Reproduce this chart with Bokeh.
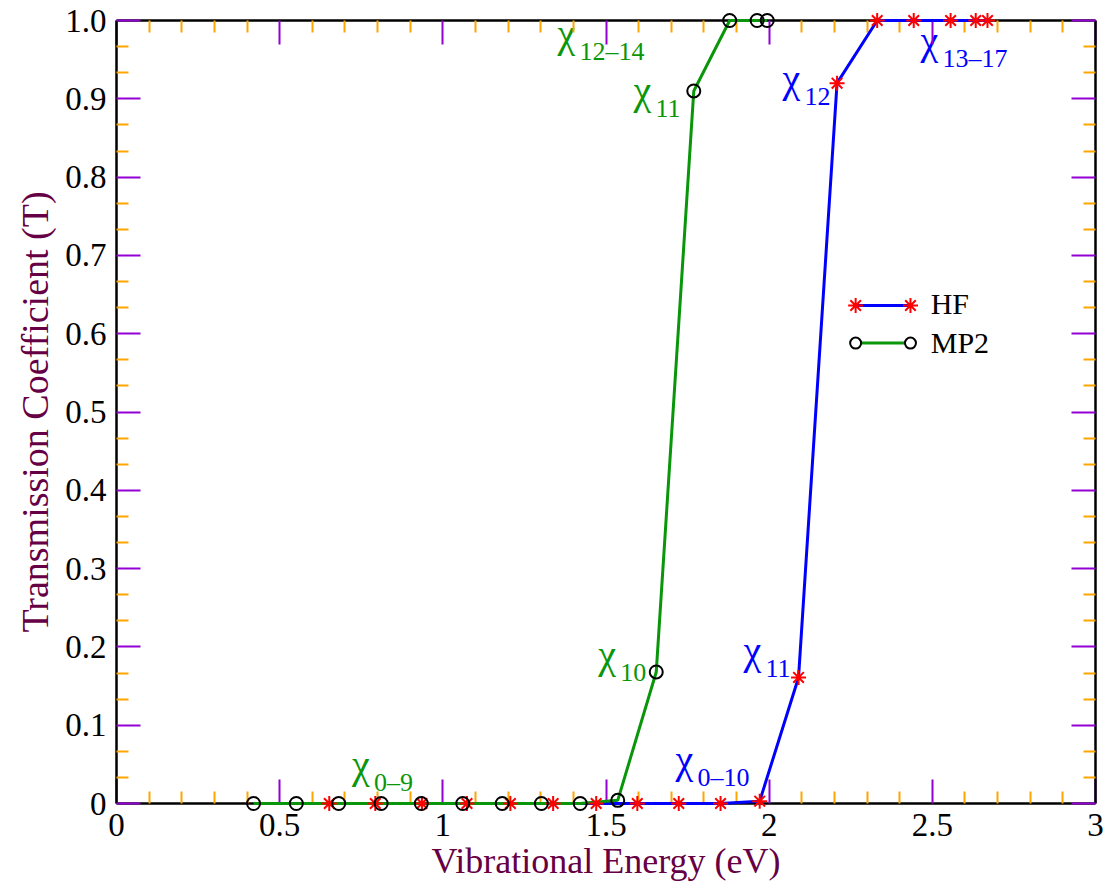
from bokeh.plotting import figure
from bokeh.models import Range1d, LinearAxis, FixedTicker, CustomJSTickFormatter, Label, ColumnDataSource
from bokeh.core.properties import value
from bokeh.embed import file_html
from bokeh.resources import INLINE

# ---------------- data ----------------
hf_energy = [0.652, 0.793, 0.936, 1.074, 1.207, 1.338, 1.470, 1.596, 1.723, 1.851,
             1.971, 2.090, 2.208, 2.331, 2.443, 2.556, 2.633, 2.669]
hf_trans = [0, 0, 0, 0, 0, 0, 0, 0, 0, 0,
            0.003, 0.161, 0.920, 1.0, 1.0, 1.0, 1.0, 1.0]

mp2_energy = [0.420, 0.551, 0.681, 0.811, 0.934, 1.061, 1.182, 1.302, 1.421, 1.536,
              1.654, 1.769, 1.879, 1.963, 1.994]
mp2_trans = [0, 0, 0, 0, 0, 0, 0, 0, 0, 0.004,
             0.168, 0.910, 1.0, 1.0, 1.0]

x_major_ticks = [0, 0.5, 1, 1.5, 2, 2.5, 3]
y_major_ticks = [0, 0.1, 0.2, 0.3, 0.4, 0.5, 0.6, 0.7, 0.8, 0.9, 1.0]

# annotation texts (chi + subscript)
green_subs = ["12\u201314", "11", "10", "0\u20139"]
blue_subs = ["13\u201317", "12", "11", "0\u201310"]

# ---------------- layout / style ----------------
green_lx = [1.351, 1.584, 1.476, 0.722]
green_ly = [0.983, 0.910, 0.190, 0.050]
blue_lx = [2.464, 2.041, 1.921, 1.713]
blue_ly = [0.974, 0.926, 0.195, 0.056]

SERIF = "Liberation Serif"
GREEN = "#0a960a"
BLUE = "#0000ff"
RED = "#ff0000"
TITLE_COLOR = "#660044"
MAJOR_C = "#9400d3"
MINOR_C = "#ffa500"

p = figure(width=1110, height=891, x_range=Range1d(0, 3), y_range=Range1d(0, 1),
           output_backend="svg", toolbar_location=None,
           min_border_left=116, min_border_right=15, min_border_top=20, min_border_bottom=88,
           background_fill_color="white", border_fill_color="white")
p.grid.visible = False
p.outline_line_color = None

x_minor = [i / 10 for i in range(31) if i % 5]
y_minor = [i / 30 for i in range(31) if i % 3]
xticker = FixedTicker(ticks=x_major_ticks, minor_ticks=x_minor)
yticker = FixedTicker(ticks=y_major_ticks, minor_ticks=y_minor)

xfmt = CustomJSTickFormatter(code="""
const r = Math.round(tick*2)/2;
return (Math.abs(r - Math.round(r)) < 1e-9) ? String(Math.round(r)) : r.toFixed(1);
""")
yfmt = CustomJSTickFormatter(code="""
return (Math.abs(tick) < 1e-9) ? "0" : tick.toFixed(1);
""")
blank = CustomJSTickFormatter(code="return '';")


def style_axis(ax, title_size="36px"):
    ax.axis_line_color = "black"
    ax.axis_line_width = 2.5
    ax.major_tick_in = 24
    ax.major_tick_out = 0
    ax.minor_tick_in = 12
    ax.minor_tick_out = 0
    ax.major_tick_line_color = MAJOR_C
    ax.major_tick_line_width = 2
    ax.minor_tick_line_color = MINOR_C
    ax.minor_tick_line_width = 2
    ax.major_label_text_font = SERIF
    ax.major_label_text_font_style = "normal"
    ax.major_label_text_font_size = "33px"
    ax.major_label_text_color = "black"
    ax.axis_label_text_font = SERIF
    ax.axis_label_text_font_size = title_size
    ax.axis_label_text_font_style = "normal"
    ax.axis_label_text_color = TITLE_COLOR


xa = p.xaxis[0]
xa.ticker = xticker
xa.formatter = xfmt
xa.axis_label = "Vibrational Energy (eV)"
style_axis(xa)
xa.major_label_standoff = 10
xa.axis_label_standoff = 2

ya = p.yaxis[0]
ya.ticker = yticker
ya.formatter = yfmt
ya.axis_label = "Transmission Coefficient (T)"
style_axis(ya, "38px")
ya.major_label_standoff = 10
ya.axis_label_standoff = 6

top = LinearAxis(ticker=xticker, formatter=blank)
style_axis(top)
top.major_label_standoff = 0
p.add_layout(top, "above")
right = LinearAxis(ticker=yticker, formatter=blank)
style_axis(right)
right.major_label_standoff = 0
p.add_layout(right, "right")

# ---------------- series ----------------
p.line(hf_energy, hf_trans, line_color=BLUE, line_width=3, level="overlay")
p.line(mp2_energy, mp2_trans, line_color=GREEN, line_width=3, level="overlay")
p.scatter(hf_energy, hf_trans, marker="asterisk", size=15, line_color=RED, line_width=2,
          level="overlay")
p.scatter(mp2_energy, mp2_trans, marker="circle", size=13, line_color="black",
          fill_color=None, line_width=2, level="overlay")

# ---------------- annotations ----------------
for lx, ly, subs, col in [(green_lx, green_ly, green_subs, GREEN), (blue_lx, blue_ly, blue_subs, BLUE)]:
    src = ColumnDataSource(dict(x=lx, y=ly, chi=["\u03c7"] * len(lx), sub=subs))
    p.text(x="x", y="y", text="chi", source=src, text_font=value(SERIF),
           text_font_size=value("40px"), text_color=col, text_baseline="alphabetic",
           text_align="left", text_font_style="normal")
    p.text(x="x", y="y", text="sub", source=src, text_font=value(SERIF),
           text_font_size=value("26px"), text_color=col, text_baseline="alphabetic",
           text_align="left", x_offset=22, y_offset=18, text_font_style="normal")

# ---------------- legend (drawn manually, xmgrace style) ----------------
leg_x0, leg_x1, leg_tx = 2.265, 2.433, 2.495
leg_y = [0.636, 0.588]
leg_ty = [0.638, 0.589]
p.line([leg_x0, leg_x1], [leg_y[0]] * 2, line_color=BLUE, line_width=3)
p.scatter([leg_x0, leg_x1], [leg_y[0]] * 2, marker="asterisk", size=15, line_color=RED, line_width=2)
p.line([leg_x0, leg_x1], [leg_y[1]] * 2, line_color=GREEN, line_width=3)
p.scatter([leg_x0, leg_x1], [leg_y[1]] * 2, marker="circle", size=11, line_color="black",
          fill_color="white", line_width=2)
p.add_layout(Label(x=leg_tx, y=leg_ty[0], text="HF", text_font=SERIF, text_font_size="30px",
                   text_color="black", text_baseline="alphabetic", text_font_style="normal"))
p.add_layout(Label(x=leg_tx, y=leg_ty[1], text="MP2", text_font=SERIF, text_font_size="30px",
                   text_color="black", text_baseline="alphabetic", text_font_style="normal"))

open("out.html", "w").write(file_html(p, INLINE))
